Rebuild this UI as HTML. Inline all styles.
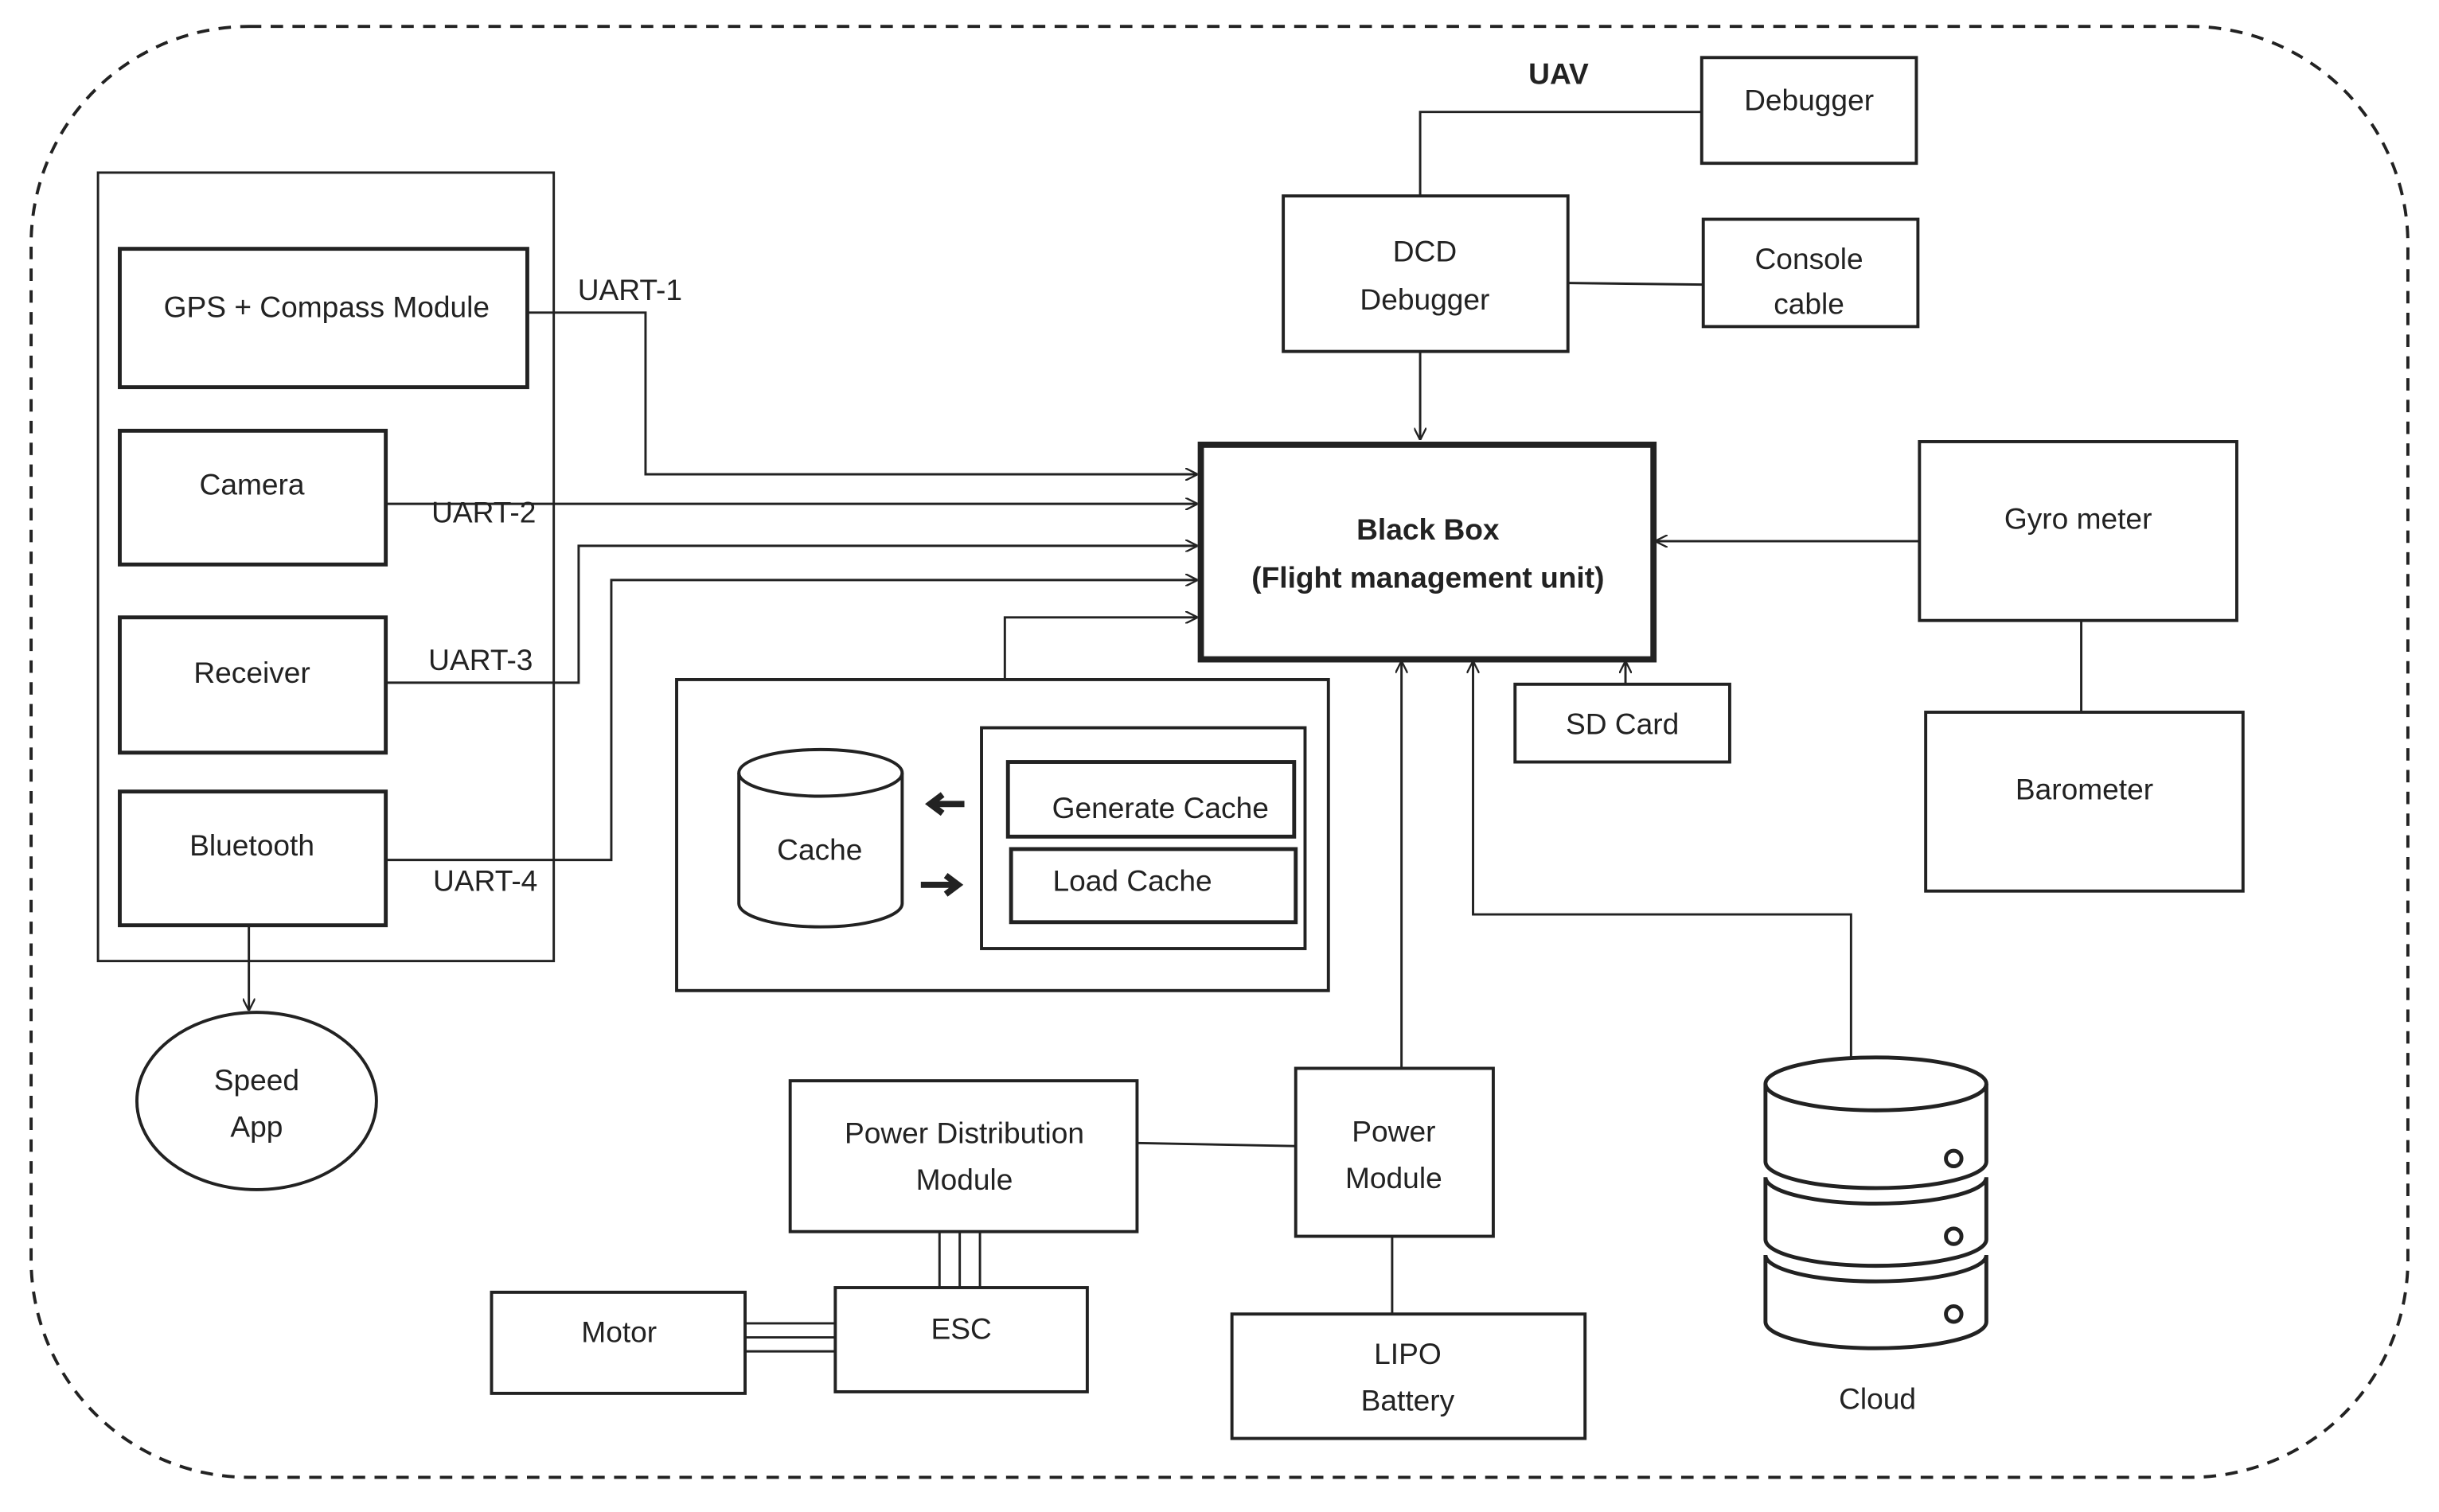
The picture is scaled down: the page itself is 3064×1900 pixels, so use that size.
<!DOCTYPE html>
<html><head><meta charset="utf-8"><style>html,body{margin:0;padding:0;background:#fff}svg{display:block}</style></head>
<body>
<svg width="3064" height="1900" viewBox="0 0 1568 972.3" preserveAspectRatio="none" xmlns="http://www.w3.org/2000/svg" font-family="Liberation Sans, sans-serif" font-size="19" fill="none" stroke="#222">
<defs>
<marker id="a" viewBox="0 0 10 10" refX="10" refY="5" markerWidth="8" markerHeight="8" orient="auto" markerUnits="userSpaceOnUse"><path d="M0,0 L10,5 L0,10" fill="none" stroke="#222" stroke-width="1.5"/></marker>
</defs>
<rect x="20" y="17" width="1528" height="933" rx="140" stroke-width="2" stroke-dasharray="8,6"/>
<g stroke-width="1.5">
<rect x="63" y="111" width="293" height="507"/>
<rect x="77" y="160" width="262" height="89" stroke-width="2.5"/>
<rect x="77" y="277" width="171" height="86" stroke-width="2.5"/>
<rect x="77" y="397" width="171" height="87" stroke-width="2.5"/>
<rect x="77" y="509" width="171" height="86" stroke-width="2.5"/>
<ellipse cx="165" cy="708" rx="77" ry="57" stroke-width="2"/>
<line x1="160" y1="595" x2="160" y2="650" marker-end="url(#a)"/>
<polyline points="339,201 415,201 415,305 770,305" marker-end="url(#a)"/>
<polyline points="248,324 770,324" marker-end="url(#a)"/>
<polyline points="248,439 372,439 372,351 770,351" marker-end="url(#a)"/>
<polyline points="248,553 393,553 393,373 770,373" marker-end="url(#a)"/>
<polyline points="646,437 646,397 770,397" marker-end="url(#a)"/>
<rect x="772" y="286" width="291" height="138" stroke-width="4"/>
<rect x="825" y="126" width="183" height="100" stroke-width="2"/>
<line x1="913" y1="226" x2="913" y2="283" marker-end="url(#a)"/>
<rect x="1094" y="37" width="138" height="68" stroke-width="2"/>
<polyline points="1094,72 913,72 913,126"/>
<rect x="1095" y="141" width="138" height="69" stroke-width="2"/>
<line x1="1008" y1="182" x2="1095" y2="183"/>
<rect x="1234" y="284" width="204" height="115" stroke-width="2"/>
<line x1="1234" y1="348" x2="1064" y2="348" marker-end="url(#a)"/>
<line x1="1338" y1="399" x2="1338" y2="458"/>
<rect x="1238" y="458" width="204" height="115" stroke-width="2"/>
<rect x="974" y="440" width="138" height="50" stroke-width="2"/>
<line x1="1045" y1="440" x2="1045" y2="425" marker-end="url(#a)"/>
<rect x="435" y="437" width="419" height="200" stroke-width="2"/>
<rect x="631" y="468" width="208" height="142" stroke-width="2"/>
<rect x="648" y="490" width="184" height="48" stroke-width="2.5"/>
<rect x="650" y="546" width="183" height="47" stroke-width="2.5"/>
<path d="M475,497 V581 A52.5,15 0 0 0 580,581 V497" stroke-width="2"/>
<ellipse cx="527.5" cy="497" rx="52.5" ry="15" stroke-width="2"/>
<path d="M620,517 H600 M606,511 L598,517 L606,523" stroke-width="4"/>
<path d="M592,569 H614 M608,563 L616,569 L608,575" stroke-width="4"/>
<rect x="833" y="687" width="127" height="108" stroke-width="2"/>
<line x1="901" y1="687" x2="901" y2="425" marker-end="url(#a)"/>
<rect x="508" y="695" width="223" height="97" stroke-width="2"/>
<line x1="731" y1="735" x2="833" y2="737"/>
<rect x="537" y="828" width="162" height="67" stroke-width="2"/>
<path d="M604,792 V828 M617,792 V828 M630,792 V828"/>
<rect x="316" y="831" width="163" height="65" stroke-width="2"/>
<path d="M479,851 H537 M479,860 H537 M479,869 H537"/>
<rect x="792" y="845" width="227" height="80" stroke-width="2"/>
<line x1="895" y1="795" x2="895" y2="845"/>
<polyline points="1190,680 1190,588 947,588 947,425" marker-end="url(#a)"/>
<g stroke-width="2.5">
<ellipse cx="1206" cy="697" rx="71" ry="17"/>
<path d="M1135,697 V747 A71,17 0 0 0 1277,747 V697"/>
<path d="M1135,757 A71,17 0 0 0 1277,757 M1135,757 V797 A71,17 0 0 0 1277,797 V757"/>
<path d="M1135,807 A71,17 0 0 0 1277,807 M1135,807 V850 A71,17 0 0 0 1277,850 V807"/>
<circle cx="1256" cy="745" r="5"/><circle cx="1256" cy="795" r="5"/><circle cx="1256" cy="845" r="5"/>
</g>
</g>
<g fill="#222" stroke="none" text-anchor="middle">
<text x="210" y="204">GPS + Compass Module</text>
<text x="162" y="318">Camera</text>
<text x="162" y="439">Receiver</text>
<text x="162" y="550">Bluetooth</text>
<text x="165" y="701">Speed</text><text x="165" y="731">App</text>
<text x="405" y="193">UART-1</text>
<text x="311" y="336">UART-2</text>
<text x="309" y="431">UART-3</text>
<text x="312" y="573">UART-4</text>
<text x="918" y="347" font-weight="bold">Black Box</text>
<text x="918" y="378" font-weight="bold">(Flight management unit)</text>
<text x="916" y="168">DCD</text><text x="916" y="199">Debugger</text>
<text x="1163" y="71">Debugger</text>
<text x="1163" y="173">Console</text><text x="1163" y="202">cable</text>
<text x="1002" y="54" font-weight="bold">UAV</text>
<text x="1336" y="340">Gyro meter</text>
<text x="1340" y="514">Barometer</text>
<text x="1043" y="472">SD Card</text>
<text x="527" y="553">Cache</text>
<text x="746" y="526">Generate Cache</text>
<text x="728" y="573">Load Cache</text>
<text x="896" y="734">Power</text><text x="896" y="764">Module</text>
<text x="620" y="735">Power Distribution</text><text x="620" y="765">Module</text>
<text x="618" y="861">ESC</text>
<text x="398" y="863">Motor</text>
<text x="905" y="877">LIPO</text><text x="905" y="907">Battery</text>
<text x="1207" y="906">Cloud</text>
</g>
</svg>
</body></html>
